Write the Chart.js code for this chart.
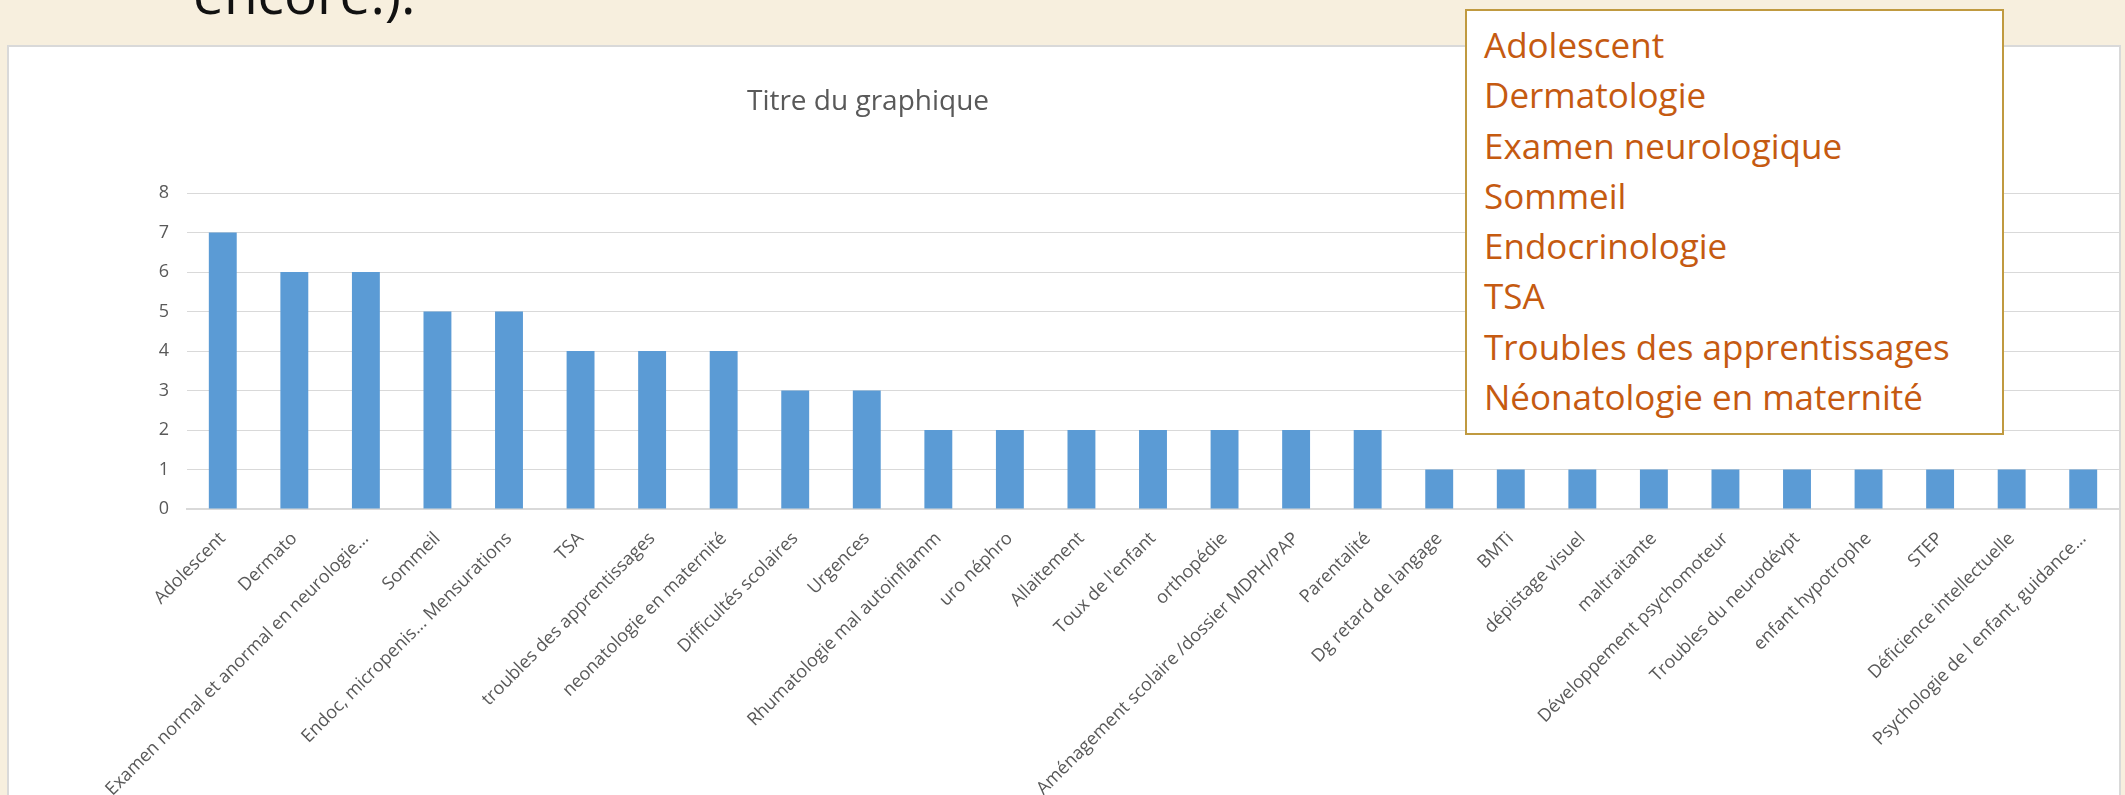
<!DOCTYPE html>
<html>
<head>
<meta charset="utf-8">
<script src="https://cdn.jsdelivr.net/npm/chart.js@4.4.1/dist/chart.umd.min.js"></script>
<style>
  html, body { margin: 0; padding: 0; }
  body {
    width: 2125px; height: 795px; overflow: hidden;
    background: #F7EFDE; position: relative;
    font-family: 'Open Sans', sans-serif;
  }
  #heading {
    position: absolute; left: 193px; top: -35px;
    font-size: 55px; line-height: 55px; color: #111; white-space: nowrap;
  }
  #frame {
    position: absolute; left: 7px; top: 45px;
    width: 2114px; height: 770px; box-sizing: border-box;
    border: 2px solid #D9D9D9; background: #fff;
  }
  #title {
    position: absolute; left: 668px; top: 85px; width: 400px;
    text-align: center; font-size: 28px; line-height: 28px; color: #595959;
  }
  #note {
    position: absolute; left: 1465px; top: 9px;
    width: 539px; height: 426px; box-sizing: border-box;
    border: 2px solid #C09A40; background: #fff;
    padding: 9px 0 0 17px;
    color: #C55A11; font-size: 35px; line-height: 50.3px; white-space: nowrap;
  }
</style>
</head>
<body>
<div id="heading">encore:).</div>
<div id="frame"><canvas id="contentChart" width="2110" height="766"></canvas></div>
<div id="title">Titre du graphique</div>
<div id="note"></div>

<script>
const categories = ['Adolescent', 'Dermato', 'Examen normal et anormal en neurologie…', 'Sommeil',
  'Endoc, micropenis... Mensurations', 'TSA', 'troubles des apprentissages', 'neonatologie en maternité',
  'Difficultés scolaires', 'Urgences', 'Rhumatologie mal autoinflamm', 'uro néphro', 'Allaitement',
  "Toux de l'enfant", 'orthopédie', 'Aménagement scolaire /dossier MDPH/PAP', 'Parentalité',
  'Dg retard de langage', 'BMTi', 'dépistage visuel', 'maltraitante', 'Développement psychomoteur',
  'Troubles du neurodévpt', 'enfant hypotrophe', 'STEP', 'Déficience intellectuelle',
  'Psychologie de l enfant, guidance…'];
const values = [7, 6, 6, 5, 5, 4, 4, 4, 3, 3, 2, 2, 2, 2, 2, 2, 2, 1, 1, 1, 1, 1, 1, 1, 1, 1, 1];
const yTickLabels = ['0', '1', '2', '3', '4', '5', '6', '7', '8'];
const noteItems = ['Adolescent', 'Dermatologie', 'Examen neurologique', 'Sommeil', 'Endocrinologie',
  'TSA', 'Troubles des apprentissages', 'Néonatologie en maternité'];

const note = document.getElementById('note');
noteItems.forEach(function(t) {
  const d = document.createElement('div');
  d.textContent = t;
  note.appendChild(d);
});

const ctx = document.getElementById('contentChart');

new Chart(ctx, {
  type: 'bar',
  data: {
    labels: categories,
    datasets: [{
      label: 'Série1',
      data: values,
      backgroundColor: '#5B9BD5',
      borderWidth: 0,
      barPercentage: 0.39,
      categoryPercentage: 1
    }]
  },
  options: {
    responsive: false,
    devicePixelRatio: 1,
    animation: false,
    layout: {
      padding: { top: 146, left: 0, right: 0, bottom: 0 }
    },
    plugins: {
      legend: { display: false },
      tooltip: { enabled: false }
    },
    scales: {
      y: {
        min: 0,
        max: 8,
        afterFit: function(scale) { scale.width = 178; },
        grid: { color: '#D9D9D9', lineWidth: 1, drawTicks: false },
        border: { display: false },
        ticks: {
          stepSize: 1,
          padding: 18,
          color: '#595959',
          font: { family: 'Open Sans', size: 18 },
          callback: function(value, index) { return yTickLabels[index]; }
        }
      },
      x: {
        afterFit: function(scale) { scale.height = 304; },
        grid: { display: false },
        border: { display: true, color: '#D9D9D9', width: 2 },
        ticks: {
          autoSkip: false,
          minRotation: 45,
          maxRotation: 45,
          padding: 11,
          color: '#595959',
          font: { family: 'Open Sans', size: 18 }
        }
      }
    }
  }
});
</script>
</body>
</html>
